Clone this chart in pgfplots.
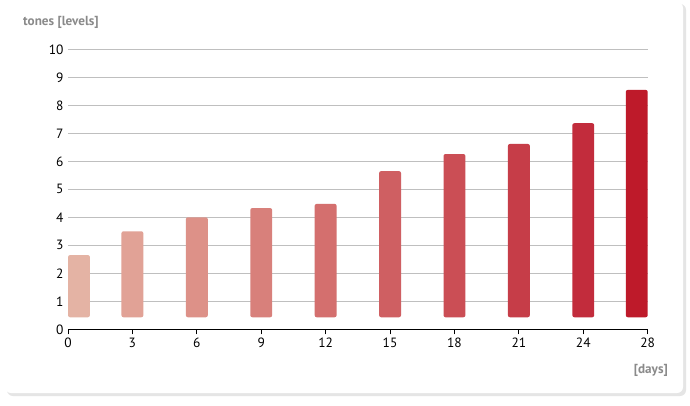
\documentclass[border=0pt]{standalone}
\usepackage{pgfplots}
\pgfplotsset{compat=1.18}
\usepackage{fontspec}
\setmainfont{PT Sans}

% bar colours, light to dark
\definecolor{b1}{HTML}{E4B3A4}
\definecolor{b2}{HTML}{E1A296}
\definecolor{b3}{HTML}{DD9188}
\definecolor{b4}{HTML}{D8807B}
\definecolor{b5}{HTML}{D46F6E}
\definecolor{b6}{HTML}{CF5F62}
\definecolor{b7}{HTML}{CB4E55}
\definecolor{b8}{HTML}{C63D48}
\definecolor{b9}{HTML}{C22C3C}
\definecolor{b10}{HTML}{BE1A2A}
\definecolor{lblgray}{HTML}{8A8A8A}

\begin{document}
\begin{tikzpicture}[x=1bp,y=1bp]
  % page and card
  \fill[white] (0,0) rectangle (690,405);
  \fill[black!10, rounded corners=6bp] (7,9) rectangle (686,401);
  \fill[white, rounded corners=6bp] (5,12) rectangle (683,403);

  \begin{axis}[
    at={(68bp,75.7bp)}, anchor=origin,
    scale only axis,
    width=579.7bp, height=280bp,
    clip=false,
    xmin=0, xmax=9,
    ymin=0, ymax=10,
    axis x line*=bottom,
    axis y line*=left,
    x axis line style={black, line width=0.8bp, -},
    y axis line style={draw=none},
    xtick={0,...,9},
    xticklabels={0,3,6,9,12,15,18,21,24,28},
    ytick={0,...,10},
    xtick align=outside,
    major tick length=5bp,
    xtick style={black, line width=0.8bp},
    ytick style={draw=none},
    ymajorgrids,
    grid style={black!25, line width=0.8bp},
    tick label style={font=\fontsize{13.5}{15}\selectfont},
    /pgf/number format/assume math mode=true,
    yticklabel style={xshift=-1bp},
  ]
    % bars from 0.43 up to the value
    \addplot[fill=b1, draw=none, rounded corners=2bp] coordinates {(0,0.43) (0,2.65) (0.34,2.65) (0.34,0.43)} -- cycle;
    \addplot[fill=b2, draw=none, rounded corners=2bp] coordinates {(0.83,0.43) (0.83,3.50) (1.17,3.50) (1.17,0.43)} -- cycle;
    \addplot[fill=b3, draw=none, rounded corners=2bp] coordinates {(1.83,0.43) (1.83,4.00) (2.17,4.00) (2.17,0.43)} -- cycle;
    \addplot[fill=b4, draw=none, rounded corners=2bp] coordinates {(2.83,0.43) (2.83,4.33) (3.17,4.33) (3.17,0.43)} -- cycle;
    \addplot[fill=b5, draw=none, rounded corners=2bp] coordinates {(3.83,0.43) (3.83,4.48) (4.17,4.48) (4.17,0.43)} -- cycle;
    \addplot[fill=b6, draw=none, rounded corners=2bp] coordinates {(4.83,0.43) (4.83,5.65) (5.17,5.65) (5.17,0.43)} -- cycle;
    \addplot[fill=b7, draw=none, rounded corners=2bp] coordinates {(5.83,0.43) (5.83,6.26) (6.17,6.26) (6.17,0.43)} -- cycle;
    \addplot[fill=b8, draw=none, rounded corners=2bp] coordinates {(6.83,0.43) (6.83,6.62) (7.17,6.62) (7.17,0.43)} -- cycle;
    \addplot[fill=b9, draw=none, rounded corners=2bp] coordinates {(7.83,0.43) (7.83,7.36) (8.17,7.36) (8.17,0.43)} -- cycle;
    \addplot[fill=b10, draw=none, rounded corners=2bp] coordinates {(8.66,0.43) (8.66,8.55) (9,8.55) (9,0.43)} -- cycle;
  \end{axis}

  \node[anchor=west, text=lblgray, font=\fontsize{13.2}{15}\selectfont\bfseries, inner sep=0] at (23,383) {tones [levels]};
  \node[anchor=east, text=lblgray, font=\fontsize{13.2}{15}\selectfont\bfseries, inner sep=0] at (668,35) {[days]};
\end{tikzpicture}
\end{document}
